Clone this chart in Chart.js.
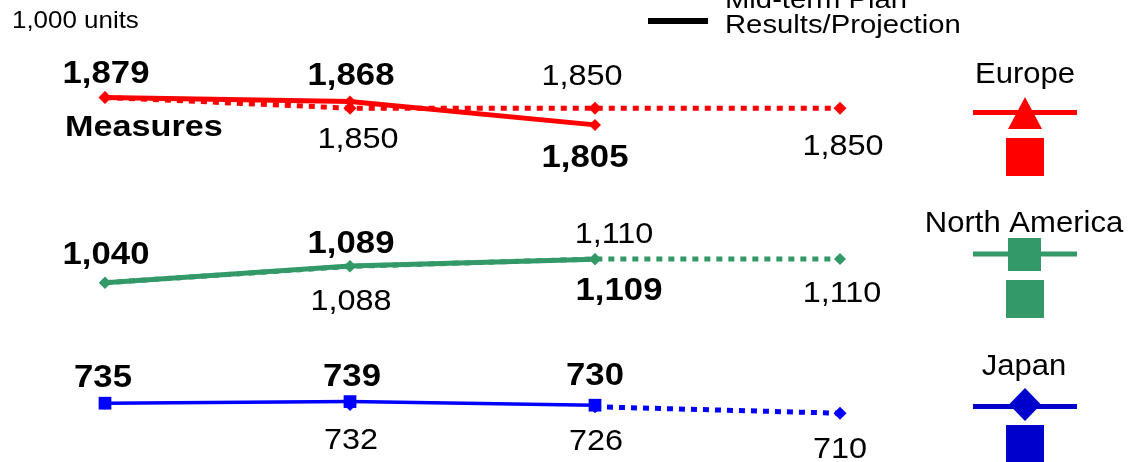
<!DOCTYPE html>
<html>
<head>
<meta charset="utf-8">
<script src="https://cdn.jsdelivr.net/npm/chart.js@4.4.1/dist/chart.umd.min.js"></script>
<style>
  html, body { margin: 0; padding: 0; background: #fff; overflow: hidden; }
  canvas { display: block; }
</style>
</head>
<body>
<canvas id="unitsChart" width="1129" height="462"></canvas>
<script>
// Fiscal periods on the x axis (not printed)
const periods = ['FY1', 'FY2', 'FY3', 'FY4'];

// Unit sales, 1,000 units
const europeResults = [1879, 1868, 1805];
const europePlan = [1879, 1850, 1850, 1850];
const northAmericaResults = [1040, 1089, 1109];
const northAmericaPlan = [1040, 1088, 1110, 1110];
const japanResults = [735, 739, 730];
const japanPlan = [735, 732, 726, 710];

const RED = '#ff0000';
const GREEN = '#349968';
const BLUE = '#0000ff';
const BLUE_KEY = '#0000cc';
const FONT = '"Liberation Sans", Arial, sans-serif';

// dataset order: results first so they are painted above the plan lines
const DS = { euR: 0, naR: 1, jpR: 2, euP: 3, naP: 4, jpP: 5 };

// where each value label sits relative to its point
const labelPlacement = [
  { ds: 'euR', i: 0, bold: true, dx: 1, dy: -14 },
  { ds: 'euR', i: 1, bold: true, dx: 1, dy: -16 },
  { ds: 'euR', i: 2, bold: true, dx: -10, dy: 42 },
  { ds: 'euP', i: 1, bold: false, dx: 8, dy: 40 },
  { ds: 'euP', i: 2, bold: false, dx: -13, dy: -23 },
  { ds: 'euP', i: 3, bold: false, dx: 3, dy: 47 },
  { ds: 'naR', i: 0, bold: true, dx: 1, dy: -19 },
  { ds: 'naR', i: 1, bold: true, dx: 1, dy: -13 },
  { ds: 'naR', i: 2, bold: true, dx: 24, dy: 41 },
  { ds: 'naP', i: 1, bold: false, dx: 1, dy: 44 },
  { ds: 'naP', i: 2, bold: false, dx: 19, dy: -16 },
  { ds: 'naP', i: 3, bold: false, dx: 2, dy: 43 },
  { ds: 'jpR', i: 0, bold: true, dx: -2, dy: -16 },
  { ds: 'jpR', i: 1, bold: true, dx: 2, dy: -16 },
  { ds: 'jpR', i: 2, bold: true, dx: 0, dy: -20 },
  { ds: 'jpP', i: 1, bold: false, dx: 1, dy: 45 },
  { ds: 'jpP', i: 2, bold: false, dx: 1, dy: 43 },
  { ds: 'jpP', i: 3, bold: false, dx: 0, dy: 45 }
];

// text drawn with a slight horizontal widening
function stretchedText(ctx, text, x, y, font, align, sx) {
  ctx.save();
  ctx.font = font;
  ctx.fillStyle = '#000';
  ctx.textAlign = align;
  ctx.textBaseline = 'alphabetic';
  ctx.translate(x, y);
  ctx.scale(sx, 1);
  ctx.fillText(text, 0, 0);
  ctx.restore();
}

const annotations = {
  id: 'annotations',
  afterDatasetsDraw(chart) {
    const ctx = chart.ctx;

    // value labels
    labelPlacement.forEach(p => {
      const idx = DS[p.ds];
      const pt = chart.getDatasetMeta(idx).data[p.i];
      const v = chart.data.datasets[idx].data[p.i];
      const font = p.bold ? `bold 32px ${FONT}` : `30px ${FONT}`;
      stretchedText(ctx, v.toLocaleString('en-US'), pt.x + p.dx, pt.y + p.dy, font, 'center', p.bold ? 1.085 : 1.08);
    });

    stretchedText(ctx, '1,000 units', 12, 28, `24px ${FONT}`, 'left', 1.08);
    stretchedText(ctx, 'Measures', 65, 136, `bold 30px ${FONT}`, 'left', 1.14);

    // line-style key
    ctx.save();
    ctx.strokeStyle = '#000';
    ctx.lineWidth = 5;
    ctx.setLineDash([6, 6]);
    ctx.beginPath(); ctx.moveTo(648, -12); ctx.lineTo(708, -12); ctx.stroke();
    ctx.setLineDash([]);
    ctx.lineWidth = 6;
    ctx.beginPath(); ctx.moveTo(648, 21); ctx.lineTo(708, 21); ctx.stroke();
    ctx.restore();
    stretchedText(ctx, 'Mid-term Plan', 725, 8, `25px ${FONT}`, 'left', 1.17);
    stretchedText(ctx, 'Results/Projection', 725, 33, `25px ${FONT}`, 'left', 1.17);

    // region key
    ctx.save();
    // Europe
    stretchedText(ctx, 'Europe', 1025, 83, `29px ${FONT}`, 'center', 1.07);
    ctx.strokeStyle = RED; ctx.fillStyle = RED; ctx.lineWidth = 5;
    ctx.beginPath(); ctx.moveTo(973, 112.5); ctx.lineTo(1077, 112.5); ctx.stroke();
    ctx.beginPath(); ctx.moveTo(1025, 97); ctx.lineTo(1042, 129); ctx.lineTo(1008, 129); ctx.closePath(); ctx.fill();
    ctx.fillRect(1006, 138, 38, 38);
    // North America
    stretchedText(ctx, 'North America', 1024, 232, `29px ${FONT}`, 'center', 1.07);
    ctx.strokeStyle = GREEN; ctx.fillStyle = GREEN;
    ctx.beginPath(); ctx.moveTo(973, 254); ctx.lineTo(1077, 254); ctx.stroke();
    ctx.fillRect(1008, 238, 33, 33);
    ctx.fillRect(1006, 280, 38, 38);
    // Japan
    stretchedText(ctx, 'Japan', 1024, 375, `29px ${FONT}`, 'center', 1.07);
    ctx.strokeStyle = BLUE_KEY; ctx.fillStyle = BLUE_KEY;
    ctx.beginPath(); ctx.moveTo(973, 406.5); ctx.lineTo(1077, 406.5); ctx.stroke();
    ctx.beginPath(); ctx.moveTo(1025, 388); ctx.lineTo(1041, 404.5); ctx.lineTo(1025, 421); ctx.lineTo(1009, 404.5); ctx.closePath(); ctx.fill();
    ctx.fillRect(1006, 425, 38, 38);
    ctx.restore();
  }
};

const dotted = [6, 6];

new Chart(document.getElementById('unitsChart'), {
  type: 'line',
  data: {
    labels: periods,
    datasets: [
      { label: 'Europe', data: europeResults, yAxisID: 'yEurope',
        borderColor: RED, backgroundColor: RED, borderWidth: 5,
        pointStyle: 'rectRot', pointRadius: 6, pointBorderWidth: 0 },
      { label: 'North America', data: northAmericaResults, yAxisID: 'yNorthAmerica',
        borderColor: GREEN, backgroundColor: GREEN, borderWidth: 5,
        pointStyle: 'rectRot', pointRadius: 6, pointBorderWidth: 0 },
      { label: 'Japan', data: japanResults, yAxisID: 'yJapan',
        borderColor: BLUE, backgroundColor: BLUE, borderWidth: 3.5,
        pointStyle: 'rect', pointRadius: 9, pointBorderWidth: 0 },
      { label: 'Europe plan', data: europePlan, yAxisID: 'yEurope',
        borderColor: RED, backgroundColor: RED, borderWidth: 5, borderDash: dotted,
        pointStyle: 'rectRot', pointRadius: 6.5, pointBorderWidth: 0 },
      { label: 'North America plan', data: northAmericaPlan, yAxisID: 'yNorthAmerica',
        borderColor: GREEN, backgroundColor: GREEN, borderWidth: 5, borderDash: dotted,
        pointStyle: 'rectRot', pointRadius: 6, pointBorderWidth: 0 },
      { label: 'Japan plan', data: japanPlan, yAxisID: 'yJapan',
        borderColor: BLUE, backgroundColor: BLUE, borderWidth: 5, borderDash: dotted,
        pointStyle: 'rectRot', pointRadius: 6.5, pointBorderWidth: 0,
        segment: { borderColor: c => c.p0DataIndex < 2 ? 'rgba(0,0,0,0)' : undefined } }
    ]
  },
  options: {
    responsive: false,
    animation: false,
    devicePixelRatio: 1,
    layout: { autoPadding: false, padding: { left: 105, right: 289, top: 0, bottom: 0 } },
    elements: { line: { tension: 0, borderCapStyle: 'butt' } },
    datasets: { line: { clip: false } },
    plugins: { legend: { display: false }, tooltip: { enabled: false } },
    scales: {
      x: { type: 'category', display: false, offset: false },
      yEurope: { type: 'linear', display: false, min: 898, max: 2141 },
      yNorthAmerica: { type: 'linear', display: false, min: 511, max: 1874 },
      yJapan: { type: 'linear', display: false, min: 588, max: 1743 }
    }
  },
  plugins: [annotations]
});
</script>
</body>
</html>
